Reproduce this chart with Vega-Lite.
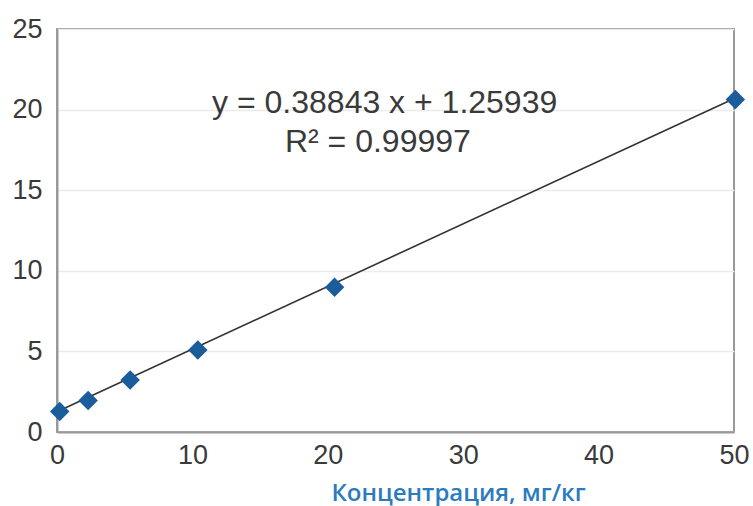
{
  "$schema": "https://vega.github.io/schema/vega-lite/v6.json",
  "width": 677,
  "height": 403,
  "autosize": {"type": "none"},
  "padding": {"left": 57, "top": 29, "right": 19, "bottom": 74},
  "background": "white",
  "config": {
    "view": {"stroke": "#999999", "strokeWidth": 2},
    "font": "Liberation Sans"
  },
  "datasets": {
    "points": [
      {"x": 0.2, "y": 1.27},
      {"x": 2.3, "y": 1.95},
      {"x": 5.4, "y": 3.22},
      {"x": 10.4, "y": 5.08},
      {"x": 20.5, "y": 8.98},
      {"x": 50.1, "y": 20.62}
    ],
    "fit": [
      {"x": 0.2, "y": 1.34},
      {"x": 50.1, "y": 20.72}
    ],
    "labels": [
      {"x": 24.2, "y": 19.8, "t": "y = 0.38843 x + 1.25939"},
      {"x": 23.7, "y": 17.4, "t": "R² = 0.99997"}
    ]
  },
  "layer": [
    {
      "data": {"name": "fit"},
      "mark": {"type": "line", "color": "#333333", "strokeWidth": 1.6},
      "encoding": {
        "x": {
          "field": "x", "type": "quantitative",
          "scale": {"domain": [0, 50], "nice": false},
          "axis": {
            "values": [0, 10, 20, 30, 40, 50],
            "grid": false, "ticks": false,
            "domainColor": "#999999", "domainWidth": 2,
            "labelFontSize": 27, "labelColor": "#3a3a3a", "labelPadding": 10,
            "labelFont": "Liberation Sans", "labelFlush": false, "labelOverlap": false,
            "title": "Концентрация, мг/кг",
            "titleFont": "Open Sans", "titleFontSize": 24, "titleFontWeight": 600,
            "titleColor": "#2b7bbf", "titleX": 401, "titleY": 68,
            "titleAlign": "center", "titleBaseline": "alphabetic"
          }
        },
        "y": {
          "field": "y", "type": "quantitative",
          "scale": {"domain": [0, 25], "nice": false},
          "axis": {
            "values": [0, 5, 10, 15, 20, 25],
            "grid": true, "gridColor": "#ebebeb", "gridWidth": 1.5,
            "ticks": false,
            "domainColor": "#999999", "domainWidth": 2,
            "labelFontSize": 27, "labelColor": "#3a3a3a", "labelPadding": 15,
            "labelFont": "Liberation Sans", "labelOverlap": false,
            "title": null
          }
        }
      }
    },
    {
      "data": {"name": "points"},
      "mark": {"type": "point", "shape": "diamond", "filled": true, "opacity": 1, "color": "#1b5c9a", "size": 380},
      "encoding": {
        "x": {"field": "x", "type": "quantitative"},
        "y": {"field": "y", "type": "quantitative"}
      }
    },
    {
      "data": {"name": "labels"},
      "mark": {"type": "text", "font": "Liberation Sans", "fontSize": 32, "color": "#3a3a3a", "align": "center", "baseline": "alphabetic"},
      "encoding": {
        "x": {"field": "x", "type": "quantitative"},
        "y": {"field": "y", "type": "quantitative"},
        "text": {"field": "t"}
      }
    }
  ]
}
